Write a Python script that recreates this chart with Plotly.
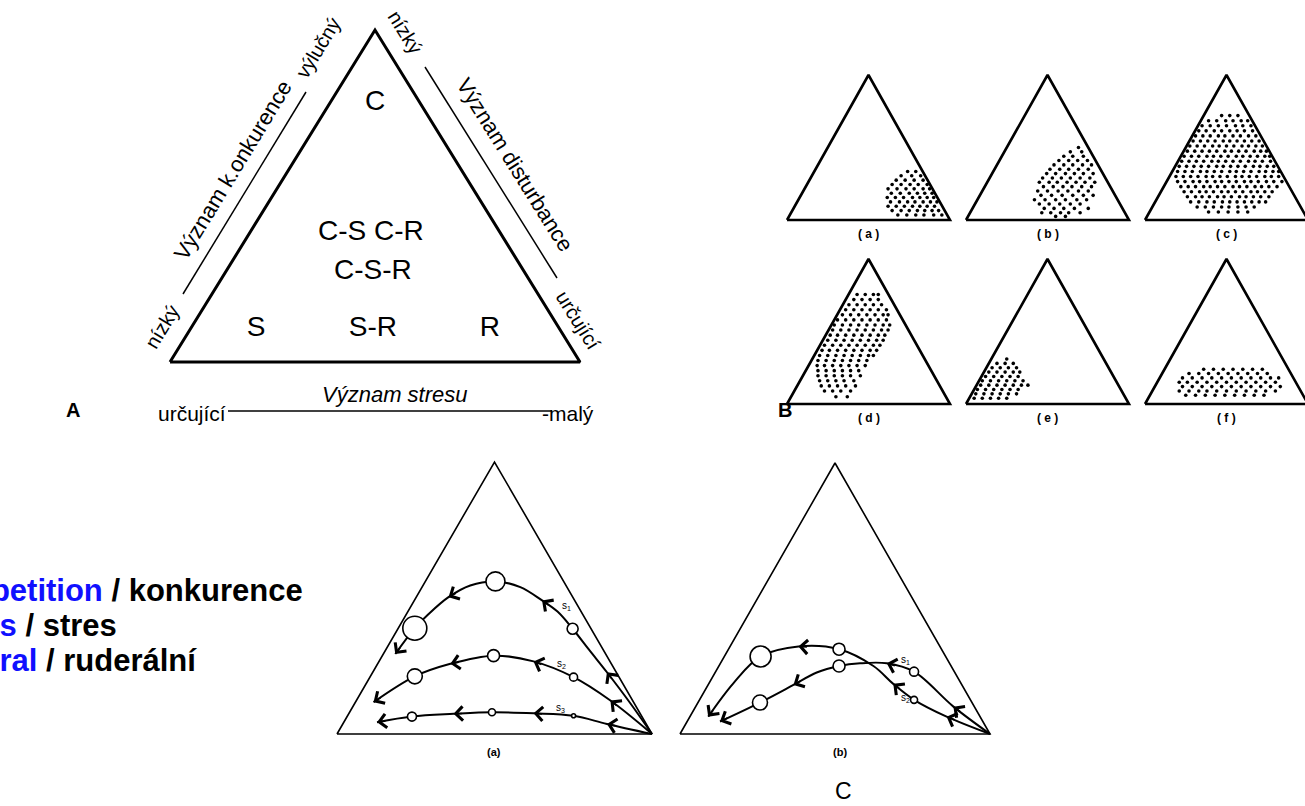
import plotly.graph_objects as go

W_FIG, H_FIG = 1305, 806

# ---------------- data ----------------
TRIANGLE_U = [0.0, 1.0, 0.5, 0.0]
TRIANGLE_V = [0.0, 0.0, 1.0, 0.0]

# Panel A: CSR zones (local triangle coordinates)
A_ZONE_TEXT = ["C", "C-S C-R", "C-S-R", "S", "S-R", "R"]
A_ZONE_U = [0.50, 0.49, 0.495, 0.21, 0.495, 0.78]
A_ZONE_V = [0.78, 0.39, 0.27, 0.10, 0.10, 0.10]

# Panel B: dot clouds, rows of (v, [u, ...])
DOTS_A = [
    (0.335, [0.74, 0.79]),
    (0.305, [0.70, 0.765, 0.82]),
    (0.275, [0.67, 0.725, 0.78, 0.835]),
    (0.245, [0.645, 0.70, 0.755, 0.805, 0.86]),
    (0.215, [0.62, 0.675, 0.73, 0.78, 0.835, 0.875]),
    (0.185, [0.64, 0.695, 0.75, 0.80, 0.845, 0.89]),
    (0.155, [0.615, 0.665, 0.715, 0.77, 0.815, 0.86, 0.90]),
    (0.125, [0.635, 0.69, 0.74, 0.785, 0.835, 0.88, 0.92]),
    (0.095, [0.62, 0.67, 0.72, 0.77, 0.815, 0.86, 0.905]),
    (0.065, [0.645, 0.70, 0.75, 0.80, 0.845, 0.89, 0.93]),
    (0.035, [0.68, 0.735, 0.79, 0.84, 0.90, 0.95]),
]
DOTS_B = [
    (0.50, [0.69]),
    (0.47, [0.64, 0.71]),
    (0.44, [0.60, 0.655, 0.72]),
    (0.41, [0.57, 0.63, 0.685, 0.745]),
    (0.38, [0.54, 0.60, 0.655, 0.715, 0.77]),
    (0.35, [0.515, 0.575, 0.63, 0.69, 0.75]),
    (0.32, [0.495, 0.55, 0.61, 0.665, 0.72, 0.78]),
    (0.29, [0.47, 0.53, 0.585, 0.64, 0.70, 0.76]),
    (0.26, [0.45, 0.51, 0.56, 0.62, 0.675, 0.73, 0.79]),
    (0.23, [0.475, 0.535, 0.595, 0.65, 0.71, 0.77]),
    (0.20, [0.44, 0.50, 0.565, 0.625, 0.69, 0.75]),
    (0.17, [0.46, 0.525, 0.59, 0.655, 0.72, 0.78]),
    (0.14, [0.42, 0.485, 0.55, 0.61, 0.68, 0.74]),
    (0.11, [0.45, 0.51, 0.575, 0.64, 0.70]),
    (0.08, [0.48, 0.54, 0.60, 0.665, 0.75]),
    (0.05, [0.465, 0.52, 0.58, 0.63, 0.70]),
    (0.025, [0.55, 0.61]),
]
DOTS_C = [
    (0.72, [0.47, 0.52, 0.57]),
    (0.685, [0.39, 0.44, 0.495, 0.54, 0.59, 0.63]),
    (0.65, [0.35, 0.40, 0.45, 0.50, 0.555, 0.60, 0.65]),
    (0.615, [0.33, 0.375, 0.425, 0.47, 0.52, 0.565, 0.61, 0.66]),
    (0.58, [0.31, 0.355, 0.40, 0.45, 0.49, 0.54, 0.585, 0.635, 0.68]),
    (0.545, [0.295, 0.34, 0.385, 0.43, 0.48, 0.52, 0.565, 0.61, 0.655, 0.70]),
    (0.51, [0.275, 0.32, 0.365, 0.415, 0.455, 0.50, 0.545, 0.595, 0.635, 0.68, 0.72]),
    (0.475, [0.26, 0.305, 0.35, 0.395, 0.44, 0.49, 0.53, 0.575, 0.62, 0.67, 0.71, 0.745]),
    (0.44, [0.24, 0.285, 0.33, 0.38, 0.42, 0.465, 0.51, 0.56, 0.60, 0.645, 0.69, 0.735, 0.765]),
    (0.405, [0.225, 0.27, 0.315, 0.36, 0.41, 0.45, 0.495, 0.54, 0.585, 0.635, 0.675, 0.72, 0.77]),
    (0.37, [0.21, 0.255, 0.30, 0.345, 0.39, 0.44, 0.48, 0.525, 0.57, 0.615, 0.665, 0.705, 0.75, 0.79]),
    (0.335, [0.20, 0.245, 0.29, 0.34, 0.38, 0.425, 0.47, 0.52, 0.56, 0.605, 0.65, 0.70, 0.74, 0.785, 0.82]),
    (0.30, [0.19, 0.235, 0.28, 0.325, 0.375, 0.415, 0.46, 0.505, 0.555, 0.595, 0.64, 0.685, 0.735, 0.775, 0.82]),
    (0.265, [0.20, 0.245, 0.295, 0.335, 0.38, 0.43, 0.47, 0.515, 0.56, 0.61, 0.65, 0.695, 0.745, 0.79, 0.84]),
    (0.23, [0.22, 0.265, 0.31, 0.36, 0.40, 0.445, 0.49, 0.54, 0.58, 0.625, 0.675, 0.715, 0.76, 0.81]),
    (0.195, [0.24, 0.285, 0.335, 0.375, 0.42, 0.47, 0.51, 0.555, 0.60, 0.65, 0.69, 0.735, 0.78]),
    (0.16, [0.26, 0.31, 0.35, 0.395, 0.445, 0.485, 0.53, 0.58, 0.62, 0.665, 0.71, 0.76]),
    (0.125, [0.28, 0.33, 0.38, 0.425, 0.475, 0.52, 0.565, 0.61, 0.655, 0.70, 0.74]),
    (0.09, [0.32, 0.37, 0.42, 0.47, 0.515, 0.57, 0.62, 0.67]),
    (0.055, [0.39, 0.45, 0.51, 0.57, 0.63]),
]
DOTS_D = [
    (0.755, [0.43, 0.48, 0.53, 0.56]),
    (0.72, [0.41, 0.46, 0.51, 0.56]),
    (0.685, [0.38, 0.43, 0.48, 0.53, 0.58]),
    (0.65, [0.36, 0.41, 0.46, 0.51, 0.56, 0.61]),
    (0.615, [0.34, 0.39, 0.44, 0.49, 0.54, 0.59, 0.62]),
    (0.58, [0.31, 0.36, 0.41, 0.46, 0.51, 0.56, 0.61]),
    (0.545, [0.29, 0.34, 0.39, 0.44, 0.49, 0.54, 0.59, 0.63]),
    (0.51, [0.28, 0.33, 0.38, 0.43, 0.48, 0.53, 0.58, 0.62]),
    (0.475, [0.265, 0.31, 0.36, 0.41, 0.46, 0.51, 0.56, 0.60]),
    (0.44, [0.25, 0.30, 0.35, 0.40, 0.45, 0.50, 0.55, 0.59]),
    (0.405, [0.23, 0.28, 0.33, 0.38, 0.43, 0.48, 0.53, 0.57]),
    (0.37, [0.215, 0.26, 0.31, 0.36, 0.41, 0.46, 0.51, 0.55]),
    (0.335, [0.20, 0.25, 0.30, 0.35, 0.40, 0.45, 0.50, 0.53]),
    (0.30, [0.19, 0.24, 0.29, 0.34, 0.39, 0.44, 0.49]),
    (0.265, [0.185, 0.23, 0.28, 0.33, 0.38, 0.43, 0.48]),
    (0.23, [0.19, 0.24, 0.29, 0.34, 0.39, 0.44]),
    (0.195, [0.19, 0.24, 0.29, 0.34, 0.39, 0.45]),
    (0.16, [0.20, 0.25, 0.30, 0.35, 0.41]),
    (0.125, [0.21, 0.26, 0.31, 0.36, 0.42]),
    (0.09, [0.23, 0.28, 0.33, 0.39]),
    (0.05, [0.30, 0.37]),
]
DOTS_E = [
    (0.31, [0.25]),
    (0.28, [0.19, 0.24, 0.29]),
    (0.25, [0.16, 0.21, 0.26, 0.31]),
    (0.22, [0.14, 0.19, 0.24, 0.29, 0.33]),
    (0.19, [0.12, 0.17, 0.22, 0.27, 0.32]),
    (0.16, [0.10, 0.15, 0.20, 0.25, 0.30, 0.35]),
    (0.13, [0.09, 0.14, 0.19, 0.24, 0.29, 0.34, 0.38]),
    (0.10, [0.07, 0.12, 0.17, 0.22, 0.27, 0.32]),
    (0.07, [0.06, 0.11, 0.16, 0.21, 0.26, 0.31]),
    (0.04, [0.05, 0.10, 0.15, 0.20, 0.25]),
]
DOTS_F = [
    (0.24, [0.36, 0.42, 0.48, 0.54, 0.60, 0.66, 0.72]),
    (0.21, [0.27, 0.33, 0.39, 0.45, 0.51, 0.57, 0.63, 0.69, 0.75]),
    (0.18, [0.23, 0.29, 0.35, 0.41, 0.47, 0.53, 0.59, 0.65, 0.71, 0.77, 0.82]),
    (0.15, [0.21, 0.26, 0.32, 0.38, 0.44, 0.50, 0.56, 0.62, 0.68, 0.74, 0.80]),
    (0.12, [0.23, 0.29, 0.35, 0.41, 0.47, 0.53, 0.59, 0.65, 0.71, 0.77, 0.83]),
    (0.09, [0.21, 0.27, 0.33, 0.38, 0.44, 0.50, 0.56, 0.62, 0.68, 0.74, 0.80]),
    (0.06, [0.25, 0.31, 0.37, 0.43, 0.49, 0.55, 0.61, 0.67, 0.73]),
]
B_TAGS = ["( a )", "( b )", "( c )", "( d )", "( e )", "( f )"]

# Panel C(a): three trajectories s1, s2, s3
CA_S1_U = [1.0, 0.93, 0.857, 0.80, 0.748, 0.70, 0.651, 0.582, 0.503, 0.423, 0.354, 0.29, 0.247, 0.185]
CA_S1_V = [0.0, 0.115, 0.227, 0.31, 0.387, 0.45, 0.491, 0.54, 0.561, 0.546, 0.503, 0.44, 0.389, 0.294]
CA_S1_ARROWS = [2, 6, 10, 13]
CA_S1_CIRC = [4, 8, 12]
CA_S1_SIZE = [11, 19, 24]

CA_S2_U = [1.0, 0.868, 0.751, 0.624, 0.497, 0.36, 0.247, 0.116]
CA_S2_V = [0.0, 0.123, 0.209, 0.267, 0.288, 0.258, 0.212, 0.117]
CA_S2_ARROWS = [1, 3, 5, 7]
CA_S2_CIRC = [2, 4, 6]
CA_S2_SIZE = [8, 12, 15]

CA_S3_U = [1.0, 0.857, 0.751, 0.624, 0.492, 0.37, 0.238, 0.127]
CA_S3_V = [0.0, 0.037, 0.067, 0.076, 0.080, 0.074, 0.064, 0.043]
CA_S3_ARROWS = [1, 3, 5, 7]
CA_S3_CIRC = [2, 4, 6]
CA_S3_SIZE = [4, 7, 9]

# Panel C(b): two crossing trajectories
CB_S1_U = [1.0, 0.882, 0.755, 0.667, 0.581, 0.513, 0.441, 0.366, 0.258, 0.129]
CB_S1_V = [0.0, 0.101, 0.230, 0.261, 0.261, 0.251, 0.227, 0.181, 0.116, 0.046]
CB_S1_ARROWS = [1, 3, 7, 9]
CB_S1_CIRC = [2, 5, 8]
CB_S1_SIZE = [9, 12, 15]

CB_S2_U = [1.0, 0.860, 0.755, 0.688, 0.624, 0.513, 0.382, 0.260, 0.172, 0.091]
CB_S2_V = [0.0, 0.064, 0.126, 0.185, 0.251, 0.313, 0.323, 0.286, 0.187, 0.064]
CB_S2_ARROWS = [1, 3, 6, 9]
CB_S2_CIRC = [2, 5, 7]
CB_S2_SIZE = [7, 12, 21]

STRATEGY_EN = ["Competition", "Stress", "Ruderal"]
STRATEGY_CZ = ["konkurence", "stres", "ruderální"]

# ---------------- figure helpers ----------------
fig = go.Figure()
axes = {}
annotations = []
shapes = []
n_axes = [0]

SANS = "Liberation Sans, Arial, sans-serif"


def new_panel(L, B, W, H, pad=12):
    n_axes[0] += 1
    i = n_axes[0]
    sfx = "" if i == 1 else str(i)
    X0 = max(0, L - pad)
    X1 = min(W_FIG, L + W + pad)
    Y0 = max(0, B - H - pad)
    Y1 = min(H_FIG, B + pad)
    axes["xaxis" + sfx] = dict(domain=[X0 / W_FIG, X1 / W_FIG],
                               range=[(X0 - L) / W, (X1 - L) / W],
                               visible=False, fixedrange=True, anchor="y" + sfx)
    axes["yaxis" + sfx] = dict(domain=[1 - Y1 / H_FIG, 1 - Y0 / H_FIG],
                               range=[(B - Y1) / H, (B - Y0) / H],
                               visible=False, fixedrange=True, anchor="x" + sfx)
    return "x" + sfx, "y" + sfx


def triangle(xa, ya, width):
    fig.add_trace(go.Scatter(x=TRIANGLE_U, y=TRIANGLE_V, mode="lines",
                             line=dict(color="black", width=width),
                             xaxis=xa, yaxis=ya, hoverinfo="skip", showlegend=False))


def label(text, x, y, size, angle=0, family=SANS, xanchor="center", yanchor="middle", color="black"):
    annotations.append(dict(text=text, x=x / W_FIG, y=1 - y / H_FIG, xref="paper", yref="paper",
                            showarrow=False, textangle=angle, xanchor=xanchor, yanchor=yanchor,
                            font=dict(family=family, size=size, color=color)))


def seg(x0, y0, x1, y1, w=1.5):
    shapes.append(dict(type="line", xref="paper", yref="paper",
                       x0=x0 / W_FIG, y0=1 - y0 / H_FIG, x1=x1 / W_FIG, y1=1 - y1 / H_FIG,
                       line=dict(color="black", width=w)))


def dots(xa, ya, rows):
    xs, ys = [], []
    for v, us in rows:
        for u in us:
            xs.append(u)
            ys.append(v)
    fig.add_trace(go.Scatter(x=xs, y=ys, mode="markers",
                             marker=dict(color="black", size=3.6),
                             xaxis=xa, yaxis=ya, hoverinfo="skip", showlegend=False))


def trajectory(xa, ya, W, H, us, vs, arrows, circ, sizes):
    fig.add_trace(go.Scatter(x=us, y=vs, mode="lines",
                             line=dict(color="black", width=2, shape="spline", smoothing=1.0),
                             xaxis=xa, yaxis=ya, hoverinfo="skip", showlegend=False))
    for i in arrows:
        hu, hv = us[i], vs[i]
        du, dv = (us[i - 1] - hu) * W, (vs[i - 1] - hv) * H
        n = (du * du + dv * dv) ** 0.5
        tu, tv = hu + du / n * 10 / W, hv + dv / n * 10 / H
        annotations.append(dict(x=hu, y=hv, ax=tu, ay=tv, xref=xa, yref=ya, axref=xa, ayref=ya,
                                text="", showarrow=True, arrowhead=4, arrowsize=1.7,
                                arrowwidth=1.6, arrowcolor="black"))
    fig.add_trace(go.Scatter(x=[us[i] for i in circ], y=[vs[i] for i in circ], mode="markers",
                             marker=dict(color="white", size=sizes, opacity=1,
                                         line=dict(color="black", width=1.6)),
                             xaxis=xa, yaxis=ya, hoverinfo="skip", showlegend=False, cliponaxis=False))


# ---------------- Panel A ----------------
xa, ya = new_panel(170, 362, 410, 332, pad=20)
triangle(xa, ya, 3)
fig.add_trace(go.Scatter(x=A_ZONE_U, y=A_ZONE_V, mode="text", text=A_ZONE_TEXT,
                         textfont=dict(family=SANS, size=28, color="black"),
                         xaxis=xa, yaxis=ya, hoverinfo="skip", showlegend=False, cliponaxis=False))

# side scales of panel A
seg(183, 294, 306, 92)
label("nízký", 162, 327, 20, angle=-58.7)
label("Význam k.onkurence", 233, 171, 22, angle=-58.7)
label("výlučný", 318, 48, 20, angle=-58.7)

seg(425, 67, 557, 278)
label("nízký", 405, 32, 20, angle=58)
label("Význam disturbance", 515, 164, 22, angle=58)
label("určující", 578, 320, 20, angle=58)

seg(228, 411, 552, 411)
label("<i>Význam stresu</i>", 395, 394, 22)
label("určující", 192, 413, 21)
label("-malý", 568, 414, 21)
label("<b>A</b>", 73, 410, 20)

# ---------------- Panel B ----------------
B_LEFT = [787, 966, 1145]
B_BASE = [220, 404]
for k, rows in enumerate([DOTS_A, DOTS_B, DOTS_C, DOTS_D, DOTS_E, DOTS_F]):
    L = B_LEFT[k % 3]
    Bb = B_BASE[k // 3]
    xa, ya = new_panel(L, Bb, 163, 145, pad=8)
    triangle(xa, ya, 2.6)
    dots(xa, ya, rows)
    label("<b>" + B_TAGS[k] + "</b>", L + 81.5, Bb + 14, 12)
label("<b>B</b>", 785, 410, 20)

# ---------------- Panel C ----------------
xa, ya = new_panel(337, 734, 315, 272, pad=10)
triangle(xa, ya, 1.6)
trajectory(xa, ya, 315, 272, CA_S1_U, CA_S1_V, CA_S1_ARROWS, CA_S1_CIRC, CA_S1_SIZE)
trajectory(xa, ya, 315, 272, CA_S2_U, CA_S2_V, CA_S2_ARROWS, CA_S2_CIRC, CA_S2_SIZE)
trajectory(xa, ya, 315, 272, CA_S3_U, CA_S3_V, CA_S3_ARROWS, CA_S3_CIRC, CA_S3_SIZE)
for t, u, v in [("s<sub>1</sub>", 0.73, 0.472), ("s<sub>2</sub>", 0.714, 0.258), ("s<sub>3</sub>", 0.709, 0.096)]:
    annotations.append(dict(text=t, x=u, y=v, xref=xa, yref=ya, showarrow=False,
                            font=dict(family=SANS, size=10, color="black")))
label("<b>(a)</b>", 494, 752, 11)

xa, ya = new_panel(680, 734, 310, 271, pad=10)
triangle(xa, ya, 1.6)
trajectory(xa, ya, 310, 271, CB_S1_U, CB_S1_V, CB_S1_ARROWS, CB_S1_CIRC, CB_S1_SIZE)
trajectory(xa, ya, 310, 271, CB_S2_U, CB_S2_V, CB_S2_ARROWS, CB_S2_CIRC, CB_S2_SIZE)
for t, u, v in [("s<sub>1</sub>", 0.729, 0.273), ("s<sub>2</sub>", 0.726, 0.132)]:
    annotations.append(dict(text=t, x=u, y=v, xref=xa, yref=ya, showarrow=False,
                            font=dict(family=SANS, size=10, color="black")))
label("<b>(b)</b>", 840, 752, 11)
label("C", 843, 791, 23)

# ---------------- strategy legend (cut at left edge) ----------------
for en, cz, y in zip(STRATEGY_EN, STRATEGY_CZ, [590, 625, 660]):
    label("<b><span style='color:#1010ff'>" + en + "</span> / " + cz + "</b>", -80, y, 31,
          xanchor="left")

fig.update_layout(
    width=W_FIG, height=H_FIG, autosize=False,
    margin=dict(l=0, r=0, t=0, b=0),
    paper_bgcolor="white", plot_bgcolor="rgba(0,0,0,0)",
    showlegend=False,
    annotations=annotations, shapes=shapes,
    **axes,
)
fig.write_html("out.html",
               config={"displayModeBar": False, "staticPlot": True},
               post_script="document.body.style.margin='0';document.body.style.overflow='hidden';")
